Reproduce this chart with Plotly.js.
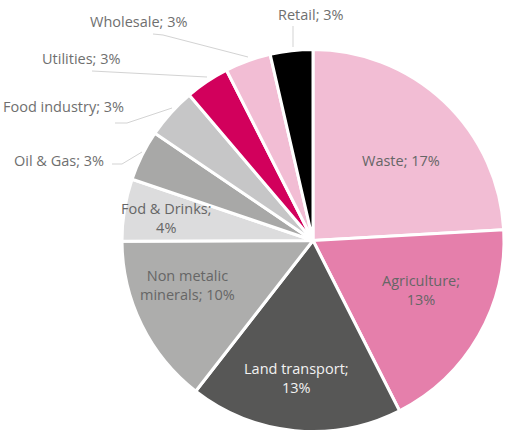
<!DOCTYPE html>
<html>
<head>
<meta charset="utf-8">
<script src="https://cdn.plot.ly/plotly-3.0.1.min.js"></script>
<style>html,body{margin:0;padding:0;background:#fff;}#chart{width:510px;height:432px;}</style>
</head>
<body>
<div id="chart"></div>
<script>
// Data (clockwise from 12 o'clock)
const sectors = ["Waste", "Agriculture", "Land transport", "Non metalic minerals", "Fod & Drinks", "Oil & Gas", "Food industry", "Utilities", "Wholesale", "Retail"];
const shares = [17.4, 13.3, 13.0, 10.4, 3.8, 3.1, 3.1, 2.7, 2.8, 2.6];
const colors = ["#F2BDD4", "#E57FAB", "#575756", "#ADADAC", "#DCDCDD", "#A8A8A7", "#C6C6C7", "#D2005C", "#F2BDD4", "#000000"];

const W = 510, H = 432;
const px = x => x / W;
const py = y => 1 - y / H;

// label placement (pixel coords); line breaks as in the reference
const labelPos = {
  "Waste": {x: 401, y: 161, anchor: "center", color: "#666666", fmt: (s, v) => s + "; " + v + "%"},
  "Agriculture": {x: 421, y: 290, anchor: "center", color: "#666666", fmt: (s, v) => s + ";<br>" + v + "%"},
  "Land transport": {x: 296, y: 378, anchor: "center", color: "#f2f2f2", fmt: (s, v) => s + ";<br>" + v + "%"},
  "Non metalic minerals": {x: 187, y: 285, anchor: "center", color: "#666666", fmt: (s, v) => "Non metalic<br>minerals; " + v + "%"},
  "Fod & Drinks": {x: 166, y: 218, anchor: "center", color: "#666666", fmt: (s, v) => s + ";<br>" + v + "%"},
  "Oil & Gas": {x: 106, y: 160, anchor: "right", color: "#6f6f6f", line: [[112,164],[122,164],[142,152]]},
  "Food industry": {x: 126, y: 107, anchor: "right", color: "#6f6f6f", line: [[115,123],[127,123],[172,108]]},
  "Utilities": {x: 122, y: 58, anchor: "right", color: "#6f6f6f", line: [[92,71],[207,77]]},
  "Wholesale": {x: 189, y: 21, anchor: "right", color: "#6f6f6f", line: [[153,34],[163,35],[248,57]]},
  "Retail": {x: 276, y: 15, anchor: "left", color: "#6f6f6f", line: [[293,26],[293,47]]}
};

const annotations = [];
const shapes = [];
sectors.forEach((s, i) => {
  const o = labelPos[s];
  const v = Math.round(shares[i]);
  const txt = o.fmt ? o.fmt(s, v) : s + "; " + v + "%";
  annotations.push({
    xref: "paper", yref: "paper", x: px(o.x), y: py(o.y),
    xanchor: o.anchor, yanchor: "middle", showarrow: false,
    text: txt, align: "center",
    font: {family: "Open Sans, sans-serif", size: 14.5, color: o.color}
  });
  if (o.line) {
    const path = o.line.map((p, k) => (k ? "L" : "M") + px(p[0]) + "," + py(p[1])).join(" ");
    shapes.push({type: "path", xref: "paper", yref: "paper", path: path,
      line: {color: "#d3d3d3", width: 1}});
  }
});

const trace = {
  type: "pie",
  labels: sectors,
  values: shares,
  sort: false,
  direction: "clockwise",
  rotation: 0,
  marker: {colors: colors, line: {color: "#ffffff", width: 3}},
  textinfo: "none",
  hoverinfo: "none",
  showlegend: false,
  domain: {x: [px(122), px(504)], y: [0, py(49)]}
};

Plotly.newPlot("chart", [trace], {
  width: W, height: H,
  margin: {l: 0, r: 0, t: 0, b: 0},
  paper_bgcolor: "#ffffff",
  showlegend: false,
  annotations: annotations,
  shapes: shapes
}, {staticPlot: true});
</script>
</body>
</html>
